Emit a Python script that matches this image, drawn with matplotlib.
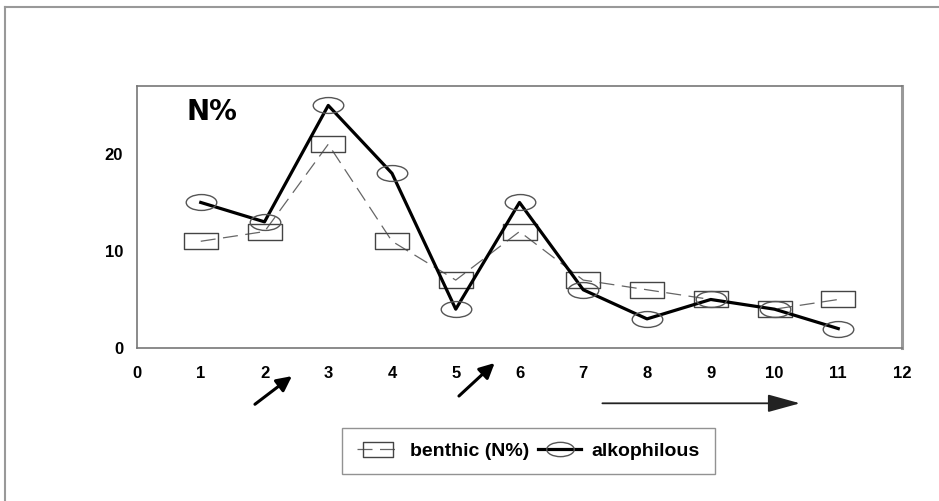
import numpy as np
import matplotlib
matplotlib.use('Agg')
import matplotlib.pyplot as plt
from matplotlib.path import Path
from matplotlib.lines import Line2D
from matplotlib.transforms import Affine2D

plt.rcParams['font.family'] = ['Liberation Sans', 'DejaVu Sans']

stations = [1, 2, 3, 4, 5, 6, 7, 8, 9, 10, 11]
benthic = [11, 12, 21, 11, 7, 12, 7, 6, 5, 4, 5]
alkophilous = [15, 13, 25, 18, 4, 15, 6, 3, 5, 4, 2]
x_ticks = list(range(0, 13))
y_ticks = [0, 10, 20]

# wide marker shapes (box and flat ellipse)
box = Path([(-1, -0.5), (1, -0.5), (1, 0.5), (-1, 0.5), (-1, -0.5)],
           [Path.MOVETO, Path.LINETO, Path.LINETO, Path.LINETO, Path.CLOSEPOLY])
ellipse = Path.unit_circle().transformed(Affine2D().scale(1, 0.52))

fig = plt.figure(figsize=(9.39, 5.01), dpi=100)
ax = fig.add_axes([0.1459, 0.3054, 0.8147, 0.5229])

ax.plot(stations, benthic, color='#666666', lw=0.9, dashes=(12, 6),
        marker=box, ms=24, mfc='none', mec='#444444', mew=1.0,
        label='benthic (N%)', zorder=2)
ax.plot(stations, alkophilous, color='black', lw=2.3,
        marker=ellipse, ms=22, mfc='none', mec='#555555', mew=1.0,
        label='alkophilous', zorder=3)

ax.set_xlim(0, 12)
ax.set_ylim(0, 27)
ax.set_xticks(x_ticks)
ax.set_yticks(y_ticks)
ax.tick_params(length=0, labelsize=12)
ax.tick_params(axis='x', pad=13)
ax.tick_params(axis='y', pad=10)
for lab in ax.get_xticklabels() + ax.get_yticklabels():
    lab.set_fontweight('bold')
for s in ['left', 'top', 'bottom']:
    ax.spines[s].set_color('#777777')
    ax.spines[s].set_linewidth(1.2)
ax.spines['right'].set_color('#999999')
ax.spines['right'].set_linewidth(2.2)

ax.text(0.77, 24.3, 'N%', fontsize=20, fontweight='bold', va='center', ha='left',
        family='DejaVu Sans')

# arrows under the axis
arrow_kw = dict(arrowstyle='-|>,head_length=0.9,head_width=0.45', color='black',
                lw=2.2, shrinkA=0, shrinkB=0)
ax.annotate('', xy=(2.43, -2.9), xytext=(1.85, -5.8), arrowprops=arrow_kw,
            annotation_clip=False)
ax.annotate('', xy=(5.61, -1.55), xytext=(5.05, -4.95), arrowprops=arrow_kw,
            annotation_clip=False)
ax.annotate('', xy=(10.4, -5.7), xytext=(7.3, -5.7),
            arrowprops=dict(arrowstyle='-|>,head_length=2.0,head_width=0.55',
                            color='#222222', lw=1.3, shrinkA=0, shrinkB=0),
            annotation_clip=False)

leg = fig.legend(loc='center', bbox_to_anchor=(0.5628, 0.0998), ncol=2,
                 frameon=True, fancybox=False, edgecolor='#777777',
                 markerscale=0.9, handlelength=2.2, columnspacing=0.45,
                 handletextpad=0.55, borderpad=0.75, borderaxespad=0,
                 prop={'weight': 'bold', 'size': 14})
leg.get_frame().set_linewidth(1.0)

# outer frame lines (top and left)
fig.add_artist(Line2D([5 / 939, 1], [1 - 7 / 501, 1 - 7 / 501], color='#999999', lw=1.5))
fig.add_artist(Line2D([5 / 939, 5 / 939], [0, 1 - 7 / 501], color='#999999', lw=1.5))

fig.savefig('out.png', dpi=100)
